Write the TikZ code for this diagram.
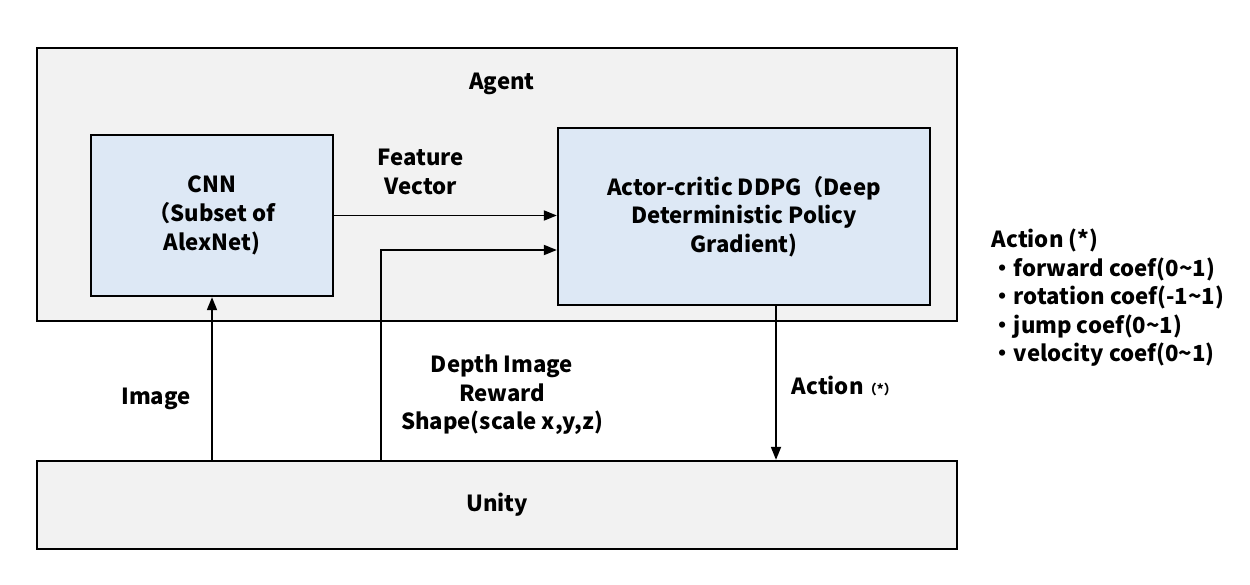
\documentclass[tikz,border=0pt]{standalone}
\usepackage{fontspec}
\setmainfont{Noto Sans CJK JP}
\usetikzlibrary{arrows.meta,positioning}
\definecolor{agentgray}{HTML}{F2F2F2}
\definecolor{netblue}{HTML}{DDE8F5}

\begin{document}
\begin{tikzpicture}[->,>={Triangle[length=2.6mm,width=2mm]},line width=1pt,
                    every node/.style={font=\fontsize{12.6}{16.3}\selectfont\bfseries,align=center},
                    outer box/.style={rectangle,draw,line width=1.3pt,fill=agentgray,minimum width=18.4cm},
                    inner box/.style={rectangle,draw,line width=1.3pt,fill=netblue}]

  \useasboundingbox (0,0) rectangle (25,11.68);

  \node[outer box,minimum height=5.46cm] (agent) at (9.94,7.99) {};
  \node (agentlabel) at (10.04,10.0) {Agent};
  \node[outer box,minimum height=1.76cm] (unity) at (9.94,1.58) {Unity};
  \node[inner box,minimum width=4.84cm,minimum height=3.22cm] (cnn) at (4.24,7.37)
    {CNN\\（Subset of\\AlexNet)};
  \node[inner box,minimum width=7.44cm,minimum height=3.54cm] (ddpg) at (14.88,7.35)
    {Actor-critic DDPG（Deep\\Deterministic Policy\\Gradient)};

  % connectors
  \path (cnn.east) edge (cnn.east -| ddpg.west);
  \draw (unity.north -| 7.62,0) |- ([yshift=-0.67cm]ddpg.west);
  \path (unity.north -| cnn.south) edge (cnn.south);
  \path ([xshift=0.64cm]ddpg.south) edge ([xshift=0.64cm]ddpg.south |- unity.north);

  % labels
  \node (feature) at (8.42,8.24) {Feature\\Vector};
  \node (image) at (3.12,3.70) {Image};
  \node (obs) at (10.04,3.78) {Depth Image\\Reward\\Shape(scale x,y,z)};
  \node[anchor=west] (action) at (15.7,3.96) {Action{\fontsize{7.5}{8}\selectfont（*）}};
  \node[anchor=north west,align=left] (actionlist) at (19.7,7.24)
    {Action (*)\\
     ・forward coef(0\textasciitilde1)\\
     ・rotation coef(-1\textasciitilde1)\\
     ・jump coef(0\textasciitilde1)\\
     ・velocity coef(0\textasciitilde1)};
\end{tikzpicture}
\end{document}
